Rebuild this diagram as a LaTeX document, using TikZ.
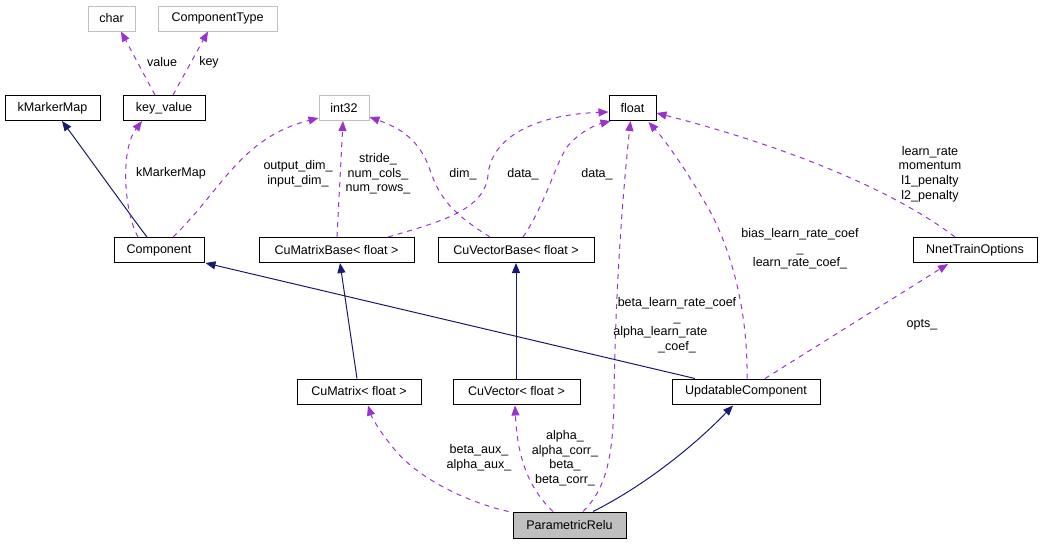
\documentclass[tikz,border=0pt]{standalone}
\usepackage{fontspec}
\setmainfont{Liberation Sans}
\usetikzlibrary{arrows.meta,calc}
\definecolor{edgenavy}{HTML}{191970}
\definecolor{edgepurple}{HTML}{9A32CD}
\definecolor{boxgray}{HTML}{BFBFBF}
\begin{document}
\begin{tikzpicture}[x=0.75pt,y=-0.75pt,
  txt/.style={font=\fontsize{9.4pt}{10.9pt}\selectfont},
  box/.style={txt,draw=black,line width=0.75pt,fill=white,minimum height=0.75*25pt,inner sep=0pt},
  ghost/.style={box,draw=boxgray},
  lbl/.style={txt,align=center,inner sep=0pt},
  inh/.style={draw=edgenavy,line width=0.75pt,-{Triangle[length=7.5pt,width=6pt]}},
  dep/.style={draw=edgepurple,line width=0.75pt,dash pattern=on 3.75pt off 3.75pt,-{Triangle[length=7.5pt,width=6pt]}}]
\useasboundingbox (0,0) rectangle (1043,544);
% nodes
\node[ghost,minimum width=0.75*47pt] (char) at (111.5,18.5) {char};
\node[ghost,minimum width=0.75*119pt] (ctype) at (217.5,18.5) {ComponentType};
\node[box,minimum width=0.75*95pt] (kmm) at (52.5,108) {kMarkerMap};
\node[box,minimum width=0.75*82pt] (kv) at (164,108) {key\_value};
\node[ghost,minimum width=0.75*50pt] (int) at (344,108) {int32};
\node[box,minimum width=0.75*47pt] (flt) at (632.5,108) {float};
\node[box,minimum width=0.75*90pt] (comp) at (159,250) {Component};
\node[box,minimum width=0.75*155pt] (cmb) at (336.5,250) {CuMatrixBase< float >};
\node[box,minimum width=0.75*156pt] (cvb) at (516,250) {CuVectorBase< float >};
\node[box,minimum width=0.75*124pt] (nto) at (975,250) {NnetTrainOptions};
\node[box,minimum width=0.75*124pt] (cm) at (359,391.5) {CuMatrix< float >};
\node[box,minimum width=0.75*127pt] (cv) at (516.5,391.5) {CuVector< float >};
\node[box,minimum width=0.75*148pt] (uc) at (746,391.5) {UpdatableComponent};
\node[box,fill=boxgray,minimum width=0.75*113pt,minimum height=0.75*26pt] (pr) at (569.5,525) {ParametricRelu};
% edges top
\draw[dep] ($(kv.north)+(-9,0)$) -- ($(char.south)+(9.5,0)$);
\node[lbl] (lvalue) at (162,62) {value};
\draw[dep] ($(kv.north)+(9,0)$) -- ($(ctype.south)+(-9.5,0)$);
\node[lbl] (lkey) at (209,62) {key};
\draw[inh] ($(comp.north)+(-12,0)$) .. controls (128,212) and (85,152) .. ($(kmm.south)+(9.5,0)$);
\draw[dep] ($(comp.north)+(-21,0)$) .. controls (124,212) and (120,150) .. ($(kv.south)+(-22,0)$);
\node[lbl] (lkmm) at (171,173) {kMarkerMap};
\draw[dep] ($(comp.north)+(14,0)$) .. controls (222,190) and (240,138) .. ($(int.south west)+(0,-3)$);
\node[lbl] (ldim) at (298,174) {output\_dim\_\\input\_dim\_};
\draw[dep] ($(cmb.north)+(0.5,0)$) -- ($(int.south)+(-1,0)$);
\node[lbl] (lstride) at (378,174) {stride\_\\num\_cols\_\\num\_rows\_};
\draw[dep] ($(cvb.north)+(-26,0)$) .. controls (455,215) and (440,200) .. (430,170) .. controls (420,140) and (400,128) .. ($(int.south east)+(0,-4)$);
\node[lbl] (lvdim) at (463,174) {dim\_};
\draw[dep] ($(cmb.north)+(51.5,0)$) .. controls (440,222) and (485,210) .. (488,175) .. controls (491,140) and (530,115) .. ($(flt.west)+(0,4)$);
\node[lbl] (ldata1) at (523,174) {data\_};
\draw[dep] ($(cvb.north)+(7,0)$) .. controls (545,205) and (555,165) .. (567,147) .. controls (578,133) and (595,125) .. ($(flt.south west)+(2,0)$);
\node[lbl] (ldata2) at (597,174) {data\_};
% inheritance middle
\draw[inh] ($(cm.north)+(-2,0)$) -- ($(cmb.south)+(3.5,0)$);
\draw[inh] ($(cv.north)+(-0.5,0)$) -- (cvb.south);
\draw[inh] ($(uc.north)+(-51,0)$) -- ($(comp.south east)+(1,0)$);
% right side
\draw[dep] ($(uc.north)+(1,0)$) .. controls (748,320) and (735,260) .. (712,215) .. controls (690,175) and (665,140) .. ($(flt.south east)+(-8,1)$);
\node[lbl] (lbias) at (800,249) {bias\_learn\_rate\_coef\\\_\\learn\_rate\_coef\_};
\draw[dep] ($(uc.north)+(19,0)$) -- ($(nto.south)+(-27,1)$);
\node[lbl] (lopts) at (922,325) {opts\_};
\draw[dep] ($(nto.north)+(-20,0)$) .. controls (900,195) and (800,150) .. ($(flt.east)+(0,5)$);
\node[lbl] (llr) at (930,174) {learn\_rate\\momentum\\l1\_penalty\\l2\_penalty};
% bottom
\draw[dep] ($(pr.north)+(13.5,0)$) .. controls (605,490) and (613,460) .. (614,400) .. controls (615,300) and (622,200) .. ($(flt.south)+(-2,0)$);
\node[lbl] (lbeta) at (677,325) {beta\_learn\_rate\_coef\\\_\\\mbox{alpha\_learn\_rate\hspace{25pt}}\\\_coef\_};
\draw[dep] ($(pr.north west)+(-4,0)$) .. controls (470,503) and (420,480) .. (395,450) .. controls (380,432) and (372,418) .. ($(cm.south)+(9,1)$);
\node[lbl] (laux) at (479,458) {beta\_aux\_\\alpha\_aux\_};
\draw[dep] ($(pr.north)+(-16.5,0)$) .. controls (525,485) and (517,450) .. ($(cv.south)+(-1.5,1)$);
\node[lbl] (lalpha) at (565,458) {alpha\_\\alpha\_corr\_\\beta\_\\beta\_corr\_};
\draw[inh] ($(pr.north)+(23.5,0)$) .. controls (640,488) and (690,450) .. ($(uc.south)+(-13,1)$);
\end{tikzpicture}
\end{document}
